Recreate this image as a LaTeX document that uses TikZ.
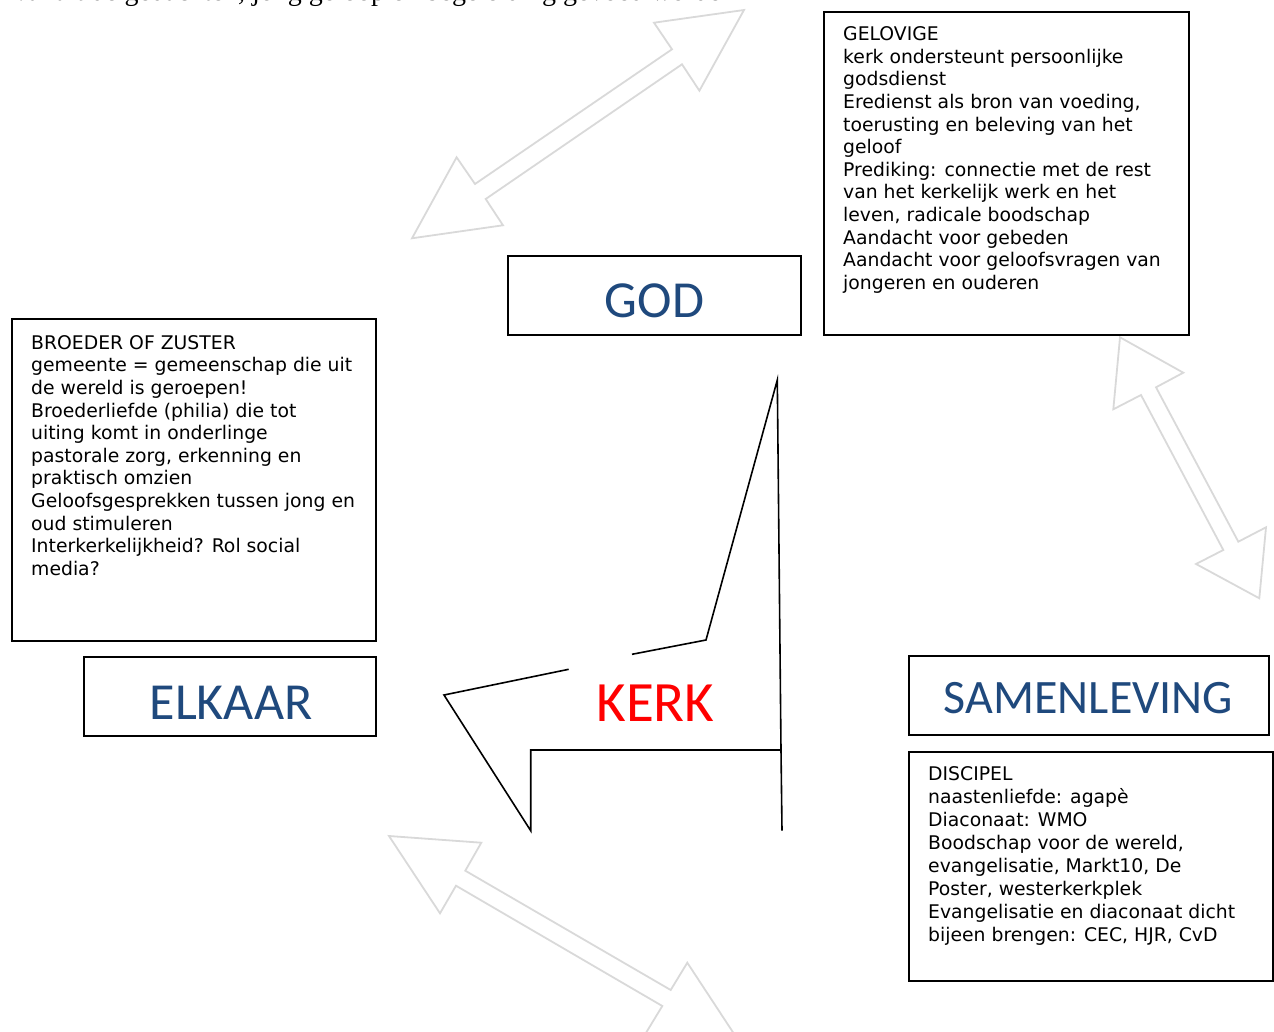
\documentclass[tikz,border=0pt]{standalone}
\usepackage{fontspec}
\setmainfont{DejaVu Sans}
\newfontfamily\labelfont{Carlito}
\newfontfamily\topserif{Liberation Serif}
\definecolor{ofblue}{HTML}{1F497D}
\definecolor{arrgray}{HTML}{D9D9D9}
\definecolor{kerkred}{HTML}{FF0000}
\tikzset{
  boxframe/.style={draw=black, line width=1.6pt, fill=white, inner sep=0pt},
  bigtxt/.style={inner sep=0pt, anchor=base},
  bodytxt/.style={inner sep=0pt, anchor=north west, align=left},
  garrow/.style={draw=arrgray, line width=1.8pt, line join=miter},
  kerkline/.style={draw=black, line width=1.6pt, line join=miter},
}
\begin{document}
\begin{tikzpicture}[x=1pt,y=-1pt]
\useasboundingbox (0,0) rectangle (1274,1032);
% cut-off line of text at the top
\node[font=\topserif\fontsize{28}{32}\selectfont, inner sep=0pt, anchor=base west] (topline) at (14,1) {vanuit de gedachten, jong geloop en begeleiding gevoed worden};

% decorative double arrows
\draw[garrow] (744,10) -- (699.4,90.7) -- (682,64.3) -- (485.7,199) -- (503,225.3) -- (412,238.3) -- (456.6,157.3) -- (475,184) -- (672,49.3) -- (654,22.7) -- cycle;
\draw[garrow] (1120,337.3) -- (1183.3,372.7) -- (1156,387.3) -- (1238.3,541.7) -- (1266,527.3) -- (1259.3,598.3) -- (1196,564) -- (1223.3,550) -- (1141,395) -- (1113.3,409.3) -- cycle;
\draw[garrow] (389,836) -- (481.3,842.7) -- (465.3,870.7) -- (670.7,990) -- (687.3,962.7) -- (738.2,1040.2) -- (645.7,1033.3) -- (662.3,1006) -- (456,885.7) -- (440,913.3) -- cycle;

% KERK shape
\draw[kerkline] (632,654.3) -- (706,640) -- (777.3,380) -- (781,750) -- (782,830.7);
\draw[kerkline] (568.7,669.3) -- (444,695) -- (530.7,830.7) -- (530.7,750) -- (781,750);
\node[bigtxt, text=kerkred, font=\labelfont\fontsize{57}{66}\selectfont] (kerk) at (655.5,721) {KERK};

% GOD
\node[boxframe, minimum width=293pt, minimum height=79pt] (godbox) at (654.5,295.5) {};
\node[bigtxt, text=ofblue, font=\labelfont\fontsize{52}{60}\selectfont] (god) at (654.5,317) {GOD};

% ELKAAR
\node[boxframe, minimum width=292pt, minimum height=79pt] (elkbox) at (230,696.5) {};
\node[bigtxt, text=ofblue, font=\labelfont\fontsize{52}{60}\selectfont] (elkaar) at (231,719.5) {ELKAAR};

% SAMENLEVING
\node[boxframe, minimum width=360pt, minimum height=79pt] (samenbox) at (1089,695.5) {};
\node[bigtxt, text=ofblue, font=\labelfont\fontsize{48}{56}\selectfont] (samen) at (1088.5,713) {SAMENLEVING};

% GELOVIGE box
\node[boxframe, minimum width=365pt, minimum height=323pt] (gelbox) at (1006.5,173.5) {};
\node[bodytxt, font=\fontsize{18.8}{22.6}\selectfont] (geltxt) at (843,24.7) {\strut GELOVIGE\\
kerk ondersteunt persoonlijke\\
godsdienst\\
Eredienst als bron van voeding,\\
toerusting en beleving van het\\
geloof\\
Prediking: connectie met de rest\\
van het kerkelijk werk en het\\
leven, radicale boodschap\\
Aandacht voor gebeden\\
Aandacht voor geloofsvragen van\\
jongeren en ouderen};

% BROEDER box
\node[boxframe, minimum width=364pt, minimum height=322pt] (broebox) at (194,480) {};
\node[bodytxt, font=\fontsize{18.8}{22.6}\selectfont] (broetxt) at (31,333.2) {\strut BROEDER OF ZUSTER\\
gemeente = gemeenschap die uit\\
de wereld is geroepen!\\
Broederliefde (philia) die tot\\
uiting komt in onderlinge\\
pastorale zorg, erkenning en\\
praktisch omzien\\
Geloofsgesprekken tussen jong en\\
oud stimuleren\\
Interkerkelijkheid? Rol social\\
media?};

% DISCIPEL box
\node[boxframe, minimum width=364pt, minimum height=229pt] (discbox) at (1091,866.5) {};
\node[bodytxt, font=\fontsize{18.8}{23.1}\selectfont] (disctxt) at (928,763.8) {\strut DISCIPEL\\
naastenliefde: agapè\\
Diaconaat: WMO\\
Boodschap voor de wereld,\\
evangelisatie, Markt10, De\\
Poster, westerkerkplek\\
Evangelisatie en diaconaat dicht\\
bijeen brengen: CEC, HJR, CvD};
\end{tikzpicture}
\end{document}
